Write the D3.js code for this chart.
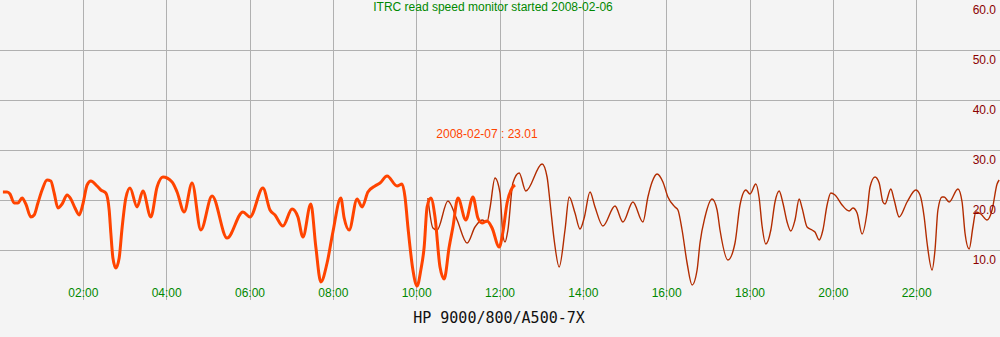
<!DOCTYPE html>
<html>
<head>
<meta charset="utf-8">
<script src="https://cdn.jsdelivr.net/npm/d3@7"></script>
<style>
    body { margin: 0; background: #f4f4f4; }
    svg { display: block; }
    .label { font-family: "Liberation Sans", Arial, sans-serif; font-size: 12px; }
</style>
</head>
<body>
<div id="chart"></div>
<script>
// Chart data
const titleText = "ITRC read speed monitor started 2008-02-06";
const hostText = "HP 9000/800/A500-7X";
const todayLabel = "2008-02-07";

const yTicks = [10, 20, 30, 40, 50, 60];
const xTicks = [2, 4, 6, 8, 10, 12, 14, 16, 18, 20, 22];

// today (thick orange) - hours of day, MB/s
const todayHours = [0.07, 0.17, 0.24, 0.34, 0.43, 0.53, 0.62, 0.74, 0.82, 0.91,
    1.01, 1.13, 1.22, 1.30, 1.39, 1.49, 1.61, 1.70, 1.80, 1.90,
    1.99, 2.09, 2.18, 2.33, 2.42, 2.54, 2.62, 2.66, 2.71, 2.78,
    2.86, 2.93, 3.02, 3.12, 3.29, 3.43, 3.62, 3.77, 3.91, 4.13,
    4.25, 4.42, 4.61, 4.82, 5.09, 5.45, 5.83, 6.00, 6.31, 6.48,
    6.60, 6.79, 7.01, 7.15, 7.27, 7.46, 7.58, 7.70, 7.85, 7.99,
    8.18, 8.26, 8.38, 8.57, 8.69, 8.83, 9.00, 9.12, 9.29, 9.53,
    9.65, 9.72, 9.79, 9.91, 10.01, 10.10, 10.18, 10.25, 10.34, 10.44,
    10.56, 10.66, 10.78, 10.87, 10.99, 11.18, 11.35, 11.47, 11.57, 11.69,
    11.81, 11.98, 12.07, 12.17, 12.29, 12.36];
const todayValues = [21.6, 21.6, 21.2, 19.4, 19.4, 20.4, 19.2, 16.6, 17.0, 19.4,
    22.0, 24.0, 23.8, 21.4, 18.4, 19.2, 21.0, 20.2, 18.4, 17.0,
    19.2, 23.0, 23.8, 22.8, 22.0, 21.4, 18.0, 13.4, 8.4, 6.4,
    8.4, 14.4, 20.4, 22.4, 18.6, 21.8, 16.6, 22.6, 24.6, 23.6,
    21.6, 17.6, 23.4, 14.0, 20.8, 12.4, 17.6, 16.6, 22.4, 18.0,
    17.0, 14.8, 18.2, 16.6, 12.6, 19.2, 10.6, 3.6, 7.4, 13.6,
    20.4, 16.4, 14.0, 20.2, 18.6, 21.6, 22.8, 23.4, 24.8, 22.8,
    23.2, 20.6, 14.6, 6.0, 2.8, 6.0, 10.6, 18.6, 20.4, 16.6,
    6.6, 4.2, 10.6, 14.6, 20.4, 16.0, 20.6, 16.4, 15.4, 15.8,
    14.4, 10.6, 13.6, 19.4, 22.4, 23.01];

// previous day (thin dark red)
const prevHours = [10.27, 10.39, 10.49, 10.75, 10.97, 11.21, 11.40, 11.57, 11.69, 11.76,
    11.88, 12.00, 12.07, 12.12, 12.19, 12.31, 12.46, 12.62, 13.01, 13.13,
    13.20, 13.30, 13.42, 13.56, 13.66, 13.80, 13.92, 14.02, 14.16, 14.28,
    14.47, 14.76, 14.95, 15.19, 15.43, 15.55, 15.65, 15.77, 15.91, 16.03,
    16.20, 16.27, 16.37, 16.49, 16.61, 16.73, 16.80, 16.92, 17.09, 17.21,
    17.28, 17.47, 17.64, 17.76, 17.90, 18.00, 18.14, 18.22, 18.29, 18.38,
    18.50, 18.60, 18.70, 18.79, 18.89, 18.98, 19.08, 19.18, 19.25, 19.37,
    19.49, 19.56, 19.66, 19.75, 19.85, 19.94, 20.04, 20.21, 20.38, 20.47,
    20.57, 20.69, 20.81, 20.88, 21.00, 21.10, 21.19, 21.24, 21.38, 21.46,
    21.58, 21.77, 21.98, 22.08, 22.18, 22.25, 22.37, 22.44, 22.51, 22.61,
    22.66, 22.78, 22.99, 23.09, 23.16, 23.26, 23.35, 23.42, 23.54, 23.69,
    23.81, 23.93, 23.98];
const prevValues = [20.4, 14.4, 14.0, 19.8, 16.0, 11.4, 14.6, 16.0, 15.6, 18.4,
    24.4, 21.4, 13.0, 11.6, 14.0, 23.4, 25.4, 21.8, 27.2, 24.6,
    19.6, 12.0, 6.6, 14.0, 20.6, 17.4, 14.2, 16.4, 21.6, 18.6,
    14.8, 18.8, 15.6, 19.6, 15.6, 20.6, 23.6, 25.2, 23.6, 20.6,
    18.6, 18.0, 14.0, 7.4, 3.0, 6.0, 11.4, 16.6, 20.2, 18.0,
    14.0, 8.0, 11.4, 19.0, 22.0, 21.2, 23.2, 20.4, 14.8, 11.2,
    14.0, 19.6, 21.8, 19.4, 15.6, 13.8, 16.0, 20.2, 18.4, 14.6,
    14.0, 13.6, 12.0, 14.0, 19.0, 21.4, 21.0, 19.0, 17.8, 18.4,
    17.4, 13.2, 17.6, 22.6, 24.6, 23.4, 19.6, 19.2, 22.2, 20.0,
    16.6, 19.6, 22.0, 21.0, 16.6, 11.4, 6.0, 10.0, 18.0, 20.6,
    20.6, 19.6, 22.2, 19.6, 13.4, 10.2, 14.6, 17.6, 17.2, 16.0,
    18.0, 23.2, 24.0];

// Set the dimensions of the graph
var width = 1000,
    height = 337,
    plotBottom = 300;

var svg = d3.select("#chart").append("svg")
    .attr("width", width)
    .attr("height", height);

svg.append("rect")
    .attr("width", width)
    .attr("height", height)
    .attr("fill", "#f4f4f4");

// Set the ranges
var x = d3.scaleLinear().domain([0, 24]).range([0, width]);
var y = d3.scaleLinear().domain([0, 60]).range([plotBottom, 0]);

// Grid lines
var grid = svg.append("g")
    .attr("stroke", "#b0b0b0")
    .attr("shape-rendering", "crispEdges");

grid.selectAll("line.h")
    .data(yTicks.filter(d => d < 60))
    .enter().append("line")
    .attr("class", "h")
    .attr("x1", 0).attr("x2", width)
    .attr("y1", d => Math.round(y(d)) + 0.5)
    .attr("y2", d => Math.round(y(d)) + 0.5);

grid.selectAll("line.v")
    .data(xTicks)
    .enter().append("line")
    .attr("class", "v")
    .attr("y1", 0).attr("y2", plotBottom)
    .attr("x1", d => Math.floor(x(d)) + 0.5)
    .attr("x2", d => Math.floor(x(d)) + 0.5);

// Lines
var line = d3.line()
    .x(d => x(d[0]))
    .y(d => y(d[1]))
    .curve(d3.curveMonotoneX);

var prevData = d3.zip(prevHours, prevValues);
var todayData = d3.zip(todayHours, todayValues);

svg.append("path")
    .datum(prevData)
    .attr("d", line)
    .attr("fill", "none")
    .attr("stroke", "#b22c00")
    .attr("stroke-width", 1.4);

svg.append("path")
    .datum(todayData)
    .attr("d", line)
    .attr("fill", "none")
    .attr("stroke", "#ff4400")
    .attr("stroke-width", 3)
    .attr("stroke-linejoin", "round");

// Right hand value labels
svg.selectAll("text.ylab")
    .data(yTicks)
    .enter().append("text")
    .attr("class", "label ylab")
    .attr("x", 996)
    .attr("y", d => y(d) + 14)
    .attr("text-anchor", "end")
    .attr("fill", "#8b0000")
    .text(d => d3.format(".1f")(d));

// Hour labels
svg.selectAll("text.xlab")
    .data(xTicks)
    .enter().append("text")
    .attr("class", "label xlab")
    .attr("x", d => x(d))
    .attr("y", 297)
    .attr("text-anchor", "middle")
    .attr("fill", "#008800")
    .text(d => d3.format("02d")(d) + ":00");

// Title
svg.append("text")
    .attr("class", "label")
    .attr("x", 493)
    .attr("y", 11)
    .attr("text-anchor", "middle")
    .attr("fill", "#008800")
    .text(titleText);

// Current value label
var lastValue = todayValues[todayValues.length - 1];
svg.append("text")
    .attr("class", "label")
    .attr("x", 487)
    .attr("y", 138)
    .attr("text-anchor", "middle")
    .attr("fill", "#ff4400")
    .text(todayLabel + " : " + d3.format(".2f")(lastValue));

// Host name
svg.append("text")
    .attr("x", 499)
    .attr("y", 323)
    .attr("text-anchor", "middle")
    .attr("fill", "#111")
    .style("font-family", "'DejaVu Sans Mono', monospace")
    .style("font-size", "15px")
    .text(hostText);
</script>
</body>
</html>
